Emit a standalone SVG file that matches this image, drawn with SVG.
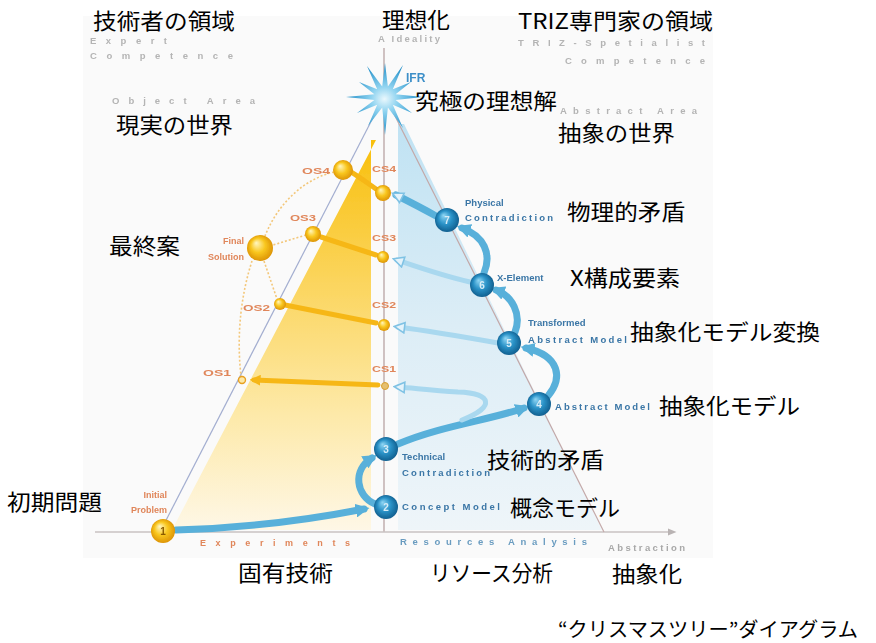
<svg xmlns="http://www.w3.org/2000/svg" width="876" height="643" viewBox="0 0 876 643">
  <defs>
    <style>
      .jp { font-family: "Noto Sans CJK JP", "Noto Sans", sans-serif; font-size: 22px; fill: #000; }
      .faint { font-family: "Liberation Sans", Arial, sans-serif; font-size: 9.5px; font-weight: bold; fill: #b4b4b4; }
      .org { font-family: "Liberation Sans", Arial, sans-serif; font-size: 9px; font-weight: bold; fill: #e0865a; }
      .blu { font-family: "Liberation Sans", Arial, sans-serif; font-size: 9.5px; font-weight: bold; fill: #3a76a6; }
      .num { font-family: "Liberation Sans", Arial, sans-serif; font-size: 10px; font-weight: bold; fill: #d6ecf7; text-anchor: middle; }
      .band { fill: none; stroke: #58b0da; stroke-width: 7; stroke-linecap: round; }
      .band-lt { fill: none; stroke: #a9d8ef; stroke-width: 5; stroke-linecap: round; }
      .ybar { fill: none; stroke: #f6b718; stroke-width: 5; stroke-linecap: round; }
      .dots { fill: none; stroke: #f3c77a; stroke-width: 1.6; stroke-dasharray: 2 2; }
      .bn { fill: url(#gBlue); }
      .yn { fill: url(#gGold); }
    </style>
    <radialGradient id="gBlue" cx="0.5" cy="0.5" r="0.55" fx="0.35" fy="0.3">
      <stop offset="0" stop-color="#8fd6f4"/>
      <stop offset="0.5" stop-color="#2b93c8"/>
      <stop offset="1" stop-color="#0d5888"/>
    </radialGradient>
    <radialGradient id="gGold" cx="0.5" cy="0.5" r="0.55" fx="0.35" fy="0.3">
      <stop offset="0" stop-color="#fff7c2"/>
      <stop offset="0.5" stop-color="#f9c71f"/>
      <stop offset="1" stop-color="#d98d00"/>
    </radialGradient>
    <radialGradient id="gStar" cx="0.5" cy="0.5" r="0.5">
      <stop offset="0" stop-color="#eaf8fd"/>
      <stop offset="0.35" stop-color="#8fd3f0"/>
      <stop offset="1" stop-color="#1c8bc6"/>
    </radialGradient>
    <linearGradient id="gYellowArea" x1="0" y1="140" x2="0" y2="530" gradientUnits="userSpaceOnUse">
      <stop offset="0" stop-color="#f8bf0c"/>
      <stop offset="0.35" stop-color="#fbd45a"/>
      <stop offset="0.7" stop-color="#fde9a8"/>
      <stop offset="1" stop-color="#fef7e6"/>
    </linearGradient>
    <linearGradient id="gBlueArea" x1="0" y1="120" x2="0" y2="530" gradientUnits="userSpaceOnUse">
      <stop offset="0" stop-color="#bfe2f3"/>
      <stop offset="0.5" stop-color="#dcedf6"/>
      <stop offset="1" stop-color="#eef5f9"/>
    </linearGradient>
    <filter id="soft" x="-5%" y="-5%" width="110%" height="110%">
      <feGaussianBlur stdDeviation="0.5"/>
    </filter>
    <marker id="arrB" viewBox="0 0 10 10" refX="6" refY="5" markerWidth="14" markerHeight="14" markerUnits="userSpaceOnUse" orient="auto">
      <path d="M0,0 L10,5 L0,10 Z" fill="#58b0da"/>
    </marker>
    <marker id="arrL" viewBox="0 0 10 10" refX="6" refY="5" markerWidth="13" markerHeight="13" markerUnits="userSpaceOnUse" orient="auto">
      <path d="M1,1 L9,5 L1,9 Z" fill="#e4f3fb" stroke="#7fc2e4" stroke-width="1.2"/>
    </marker>
    <marker id="arrY" viewBox="0 0 10 10" refX="6" refY="5" markerWidth="11" markerHeight="11" markerUnits="userSpaceOnUse" orient="auto">
      <path d="M0,0 L10,5 L0,10 Z" fill="#f6b718"/>
    </marker>
    <marker id="arrG" viewBox="0 0 10 10" refX="5" refY="5" markerWidth="9" markerHeight="9" markerUnits="userSpaceOnUse" orient="auto">
      <path d="M0,1 L10,5 L0,9 Z" fill="#b9b3b3"/>
    </marker>
  </defs>

  <rect width="876" height="643" fill="#ffffff"/>

  <!-- artwork: areas, axes, connectors, nodes -->
  <g id="artwork" filter="url(#soft)">
    <rect x="83" y="16" width="630" height="542" fill="#fafafa"/>

    <!-- expert (concrete) area and abstract area -->
    <path d="M376,140 Q 292,300 172,530 L 371,530 L 371,140 Z" fill="url(#gYellowArea)"/>
    <path d="M398,124 L 404,124 L 602,530 L 398,530 Z" fill="url(#gBlueArea)"/>

    <!-- axes and triangle sides -->
    <line x1="384" y1="48" x2="384" y2="532" stroke="#b39c9c" stroke-width="1.2"/>
    <line x1="95" y1="532" x2="672" y2="532" stroke="#c9c2c2" stroke-width="1.4" marker-end="url(#arrG)"/>
    <line x1="378" y1="108" x2="160" y2="532" stroke="#a3aed0" stroke-width="1.2"/>
    <line x1="391" y1="108" x2="604" y2="532" stroke="#c3a8a8" stroke-width="1.2"/>

    <g id="connectors">
      <!-- dotted links to the final solution -->
      <path class="dots" d="M334,172 C 300,180 276,208 265,236"/>
      <path class="dots" d="M306,235 L 273,245"/>
      <path class="dots" d="M264,261 L 277,299"/>
      <path class="dots" d="M252,261 C 242,292 236,332 241,376"/>

      <!-- concrete solutions carried across -->
      <path class="ybar" d="M376,189 C 366,182 358,176 351,172"/>
      <path class="ybar" d="M376,255 L 321,237"/>
      <path class="ybar" d="M376,323 L 285,305"/>
      <path class="ybar" d="M378,385 L 254,380" stroke-width="4" marker-end="url(#arrY)"/>

      <!-- abstract path -->
      <path class="band" d="M176,530 C 250,528 318,518 364,509" marker-end="url(#arrB)"/>
      <path class="band" d="M375,504 C 356,496 352,470 372,458" marker-end="url(#arrB)"/>
      <path class="band" d="M398,444 C 440,426 490,420 524,408" marker-end="url(#arrB)"/>
      <path class="band-lt" d="M462,420 C 496,407 492,393 458,392 C 430,390 412,388 398,387" marker-end="url(#arrL)"/>
      <path class="band" d="M548,396 C 563,378 560,356 526,348" marker-end="url(#arrB)"/>
      <path class="band" d="M515,332 C 522,314 512,296 496,290" marker-end="url(#arrB)"/>
      <path class="band" d="M484,273 C 492,254 484,236 462,228" marker-end="url(#arrB)"/>
      <path class="band" d="M436,216 C 420,207 404,199 396,195" marker-end="url(#arrL)"/>
      <path class="band-lt" d="M470,282 C 440,275 412,265 397,260" marker-end="url(#arrL)"/>
      <path class="band-lt" d="M498,343 C 470,338 430,331 398,327" marker-end="url(#arrL)"/>
    </g>

    <!-- ideal final result -->
    <g id="node-ifr">
      <polygon fill="url(#gStar)" points="385,63 387.9,86.4 403,65 392.8,89.2 411,82 395.6,94.2 423,97 395.6,99.9 412,113 392.8,104.8 403,128 387.9,107.6 385,135 382.2,107.6 368,126 377.2,104.8 357,113 374.4,99.9 346,97 374.4,94.2 359,82 377.2,89.2 367,66 382.2,86.4"/>
      <text x="406" y="82" font-family="Liberation Sans, Arial, sans-serif" font-size="12" font-weight="bold" fill="#3d8fc8">IFR</text>
    </g>

    <!-- concrete-side nodes -->
    <g id="node-1"><circle class="yn" cx="163" cy="531" r="12"/><text x="163" y="535" class="num" style="fill:#8a5a00">1</text></g>
    <g id="node-os4"><circle class="yn" cx="343" cy="170" r="10"/></g>
    <g id="node-os3"><circle class="yn" cx="313" cy="234" r="8"/></g>
    <g id="node-os2"><circle class="yn" cx="280" cy="304" r="6"/></g>
    <g id="node-os1"><circle cx="242" cy="380" r="3.5" fill="#fde9a8" stroke="#e8a020" stroke-width="1.4"/></g>
    <g id="node-final"><circle class="yn" cx="260" cy="248" r="13"/></g>
    <g id="node-cs4"><circle class="yn" cx="383" cy="193" r="8"/></g>
    <g id="node-cs3"><circle class="yn" cx="383" cy="257" r="6"/></g>
    <g id="node-cs2"><circle class="yn" cx="384" cy="325" r="6"/></g>
    <g id="node-cs1"><circle cx="385" cy="386" r="3.5" fill="#e6c070" stroke="#d8a030" stroke-width="1"/></g>

    <!-- abstract-side nodes -->
    <g id="node-2"><circle class="bn" cx="386" cy="507" r="12"/><text x="386" y="511" class="num">2</text></g>
    <g id="node-3"><circle class="bn" cx="386" cy="449" r="12"/><text x="386" y="453" class="num">3</text></g>
    <g id="node-4"><circle class="bn" cx="539" cy="404" r="12"/><text x="539" y="408" class="num">4</text></g>
    <g id="node-5"><circle class="bn" cx="509" cy="343" r="12"/><text x="509" y="347" class="num">5</text></g>
    <g id="node-6"><circle class="bn" cx="482" cy="285" r="12"/><text x="482" y="289" class="num">6</text></g>
    <g id="node-7"><circle class="bn" cx="447" cy="220" r="12"/><text x="447" y="224" class="num">7</text></g>

    <!-- small printed labels -->
    <text class="faint" x="378" y="42" font-size="8" font-weight="normal" textLength="62" lengthAdjust="spacing">A Ideality</text>
    <text class="faint" x="90" y="44" textLength="77" lengthAdjust="spacing">Expert</text>
    <text class="faint" x="90" y="59" textLength="143" lengthAdjust="spacing">Competence</text>
    <text class="faint" x="112" y="104" textLength="143" lengthAdjust="spacing">Object Area</text>
    <text class="faint" x="518" y="46" textLength="187" lengthAdjust="spacing">TRIZ-Spetialist</text>
    <text class="faint" x="565" y="64" textLength="140" lengthAdjust="spacing">Competence</text>
    <text class="faint" x="560" y="114" textLength="137" lengthAdjust="spacing">Abstract Area</text>
    <text class="org" x="200" y="546" textLength="150" lengthAdjust="spacing">Experiments</text>
    <text class="blu" x="400" y="545" textLength="187" lengthAdjust="spacing" style="fill:#6a9cc0">Resources Analysis</text>
    <text class="faint" x="608" y="551" font-size="8.5" font-weight="normal" textLength="77" lengthAdjust="spacing" style="fill:#a8a8a8">Abstraction</text>

    <text class="org" x="302" y="174" textLength="28" lengthAdjust="spacingAndGlyphs">OS4</text>
    <text class="org" x="372" y="172" textLength="24" lengthAdjust="spacingAndGlyphs">CS4</text>
    <text class="org" x="290" y="221" textLength="26" lengthAdjust="spacingAndGlyphs">OS3</text>
    <text class="org" x="372" y="241" textLength="24" lengthAdjust="spacingAndGlyphs">CS3</text>
    <text class="org" x="243" y="311" textLength="27" lengthAdjust="spacingAndGlyphs">OS2</text>
    <text class="org" x="372" y="308" textLength="24" lengthAdjust="spacingAndGlyphs">CS2</text>
    <text class="org" x="203" y="376" textLength="28" lengthAdjust="spacingAndGlyphs">OS1</text>
    <text class="org" x="372" y="372" textLength="24" lengthAdjust="spacingAndGlyphs">CS1</text>
    <text class="org" x="244" y="244" text-anchor="end">Final</text>
    <text class="org" x="244" y="260" text-anchor="end">Solution</text>
    <text class="org" x="167" y="498" text-anchor="end">Initial</text>
    <text class="org" x="167" y="513" text-anchor="end">Problem</text>

    <text class="blu" x="465" y="206">Physical</text>
    <text class="blu" x="465" y="221" textLength="88" lengthAdjust="spacing">Contradiction</text>
    <text class="blu" x="497" y="281">X-Element</text>
    <text class="blu" x="528" y="326">Transformed</text>
    <text class="blu" x="528" y="343" textLength="99" lengthAdjust="spacing">Abstract Model</text>
    <text class="blu" x="555" y="410" textLength="95" lengthAdjust="spacing">Abstract Model</text>
    <text class="blu" x="402" y="460">Technical</text>
    <text class="blu" x="402" y="476" textLength="88" lengthAdjust="spacing">Contradiction</text>
    <text class="blu" x="402" y="510" textLength="98" lengthAdjust="spacing">Concept Model</text>
  </g>

  <!-- Japanese captions -->
  <g id="captions">
    <text class="jp" x="93" y="29" textLength="142" lengthAdjust="spacingAndGlyphs">技術者の領域</text>
    <text class="jp" x="382" y="28" textLength="68" lengthAdjust="spacingAndGlyphs">理想化</text>
    <text class="jp" x="518" y="29" textLength="195" lengthAdjust="spacingAndGlyphs">TRIZ専門家の領域</text>
    <text class="jp" x="415" y="109" textLength="142" lengthAdjust="spacingAndGlyphs">究極の理想解</text>
    <text class="jp" x="116" y="133" textLength="117" lengthAdjust="spacingAndGlyphs">現実の世界</text>
    <text class="jp" x="558" y="141" textLength="117" lengthAdjust="spacingAndGlyphs">抽象の世界</text>
    <text class="jp" x="567" y="220" textLength="118" lengthAdjust="spacingAndGlyphs">物理的矛盾</text>
    <text class="jp" x="570" y="286" textLength="110" lengthAdjust="spacingAndGlyphs">X構成要素</text>
    <text class="jp" x="630" y="340" textLength="190" lengthAdjust="spacingAndGlyphs">抽象化モデル変換</text>
    <text class="jp" x="659" y="414" textLength="141" lengthAdjust="spacingAndGlyphs">抽象化モデル</text>
    <text class="jp" x="487" y="468" textLength="117" lengthAdjust="spacingAndGlyphs">技術的矛盾</text>
    <text class="jp" x="510" y="516" textLength="110" lengthAdjust="spacingAndGlyphs">概念モデル</text>
    <text class="jp" x="109" y="254" textLength="71" lengthAdjust="spacingAndGlyphs">最終案</text>
    <text class="jp" x="7" y="510" textLength="95" lengthAdjust="spacingAndGlyphs">初期問題</text>
    <text class="jp" x="238" y="581" textLength="95" lengthAdjust="spacingAndGlyphs">固有技術</text>
    <text class="jp" x="430" y="581" textLength="123" lengthAdjust="spacingAndGlyphs">リソース分析</text>
    <text class="jp" x="612" y="582" textLength="70" lengthAdjust="spacingAndGlyphs">抽象化</text>
    <text class="jp" x="558" y="637" style="font-size:20px" textLength="300" lengthAdjust="spacingAndGlyphs">“クリスマスツリー”ダイアグラム</text>
  </g>
</svg>
